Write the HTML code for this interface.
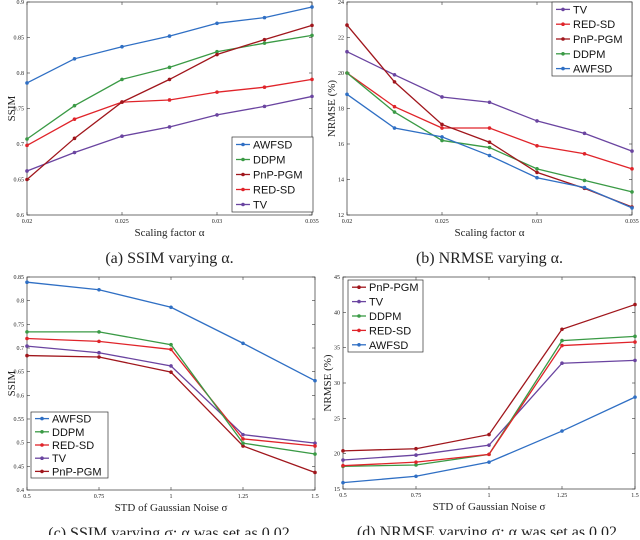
<!DOCTYPE html>
<html><head><meta charset="utf-8"><style>
body{margin:0;background:#fff;width:640px;height:535px;overflow:hidden}
svg text{font-family:"Liberation Serif",serif}
svg text.sans{font-family:"Liberation Sans",sans-serif}
</style></head><body>
<svg id="c" width="640" height="535" viewBox="0 0 640 535" xmlns="http://www.w3.org/2000/svg"></svg>
<script>
const COL={AWFSD:"#2f6fc4",DDPM:"#3a9a45",PnP:"#a0161c",RED:"#e0242a",TV:"#6a44a0"};
const LABEL={AWFSD:"AWFSD",DDPM:"DDPM",PnP:"PnP-PGM",RED:"RED-SD",TV:"TV"};
// (a)
const xA=[0.02,0.0225,0.025,0.0275,0.03,0.0325,0.035];
const aAWFSD=[.786,.820,.837,.852,.870,.878,.893];
const aDDPM=[.707,.754,.791,.808,.830,.842,.853];
const aPnP=[.650,.708,.759,.791,.826,.847,.867];
const aRED=[.698,.735,.759,.762,.773,.780,.791];
const aTV=[.662,.688,.711,.724,.741,.753,.767];
// (b)
const bTV=[21.2,19.9,18.65,18.35,17.3,16.6,15.6];
const bRED=[20.0,18.1,16.9,16.9,15.9,15.45,14.6];
const bPnP=[22.7,19.5,17.1,16.1,14.4,13.5,12.45];
const bDDPM=[20.0,17.8,16.2,15.8,14.6,13.95,13.3];
const bAWFSD=[18.8,16.9,16.4,15.35,14.1,13.55,12.4];
// (c)
const xC=[0.5,0.75,1,1.25,1.5];
const cAWFSD=[.839,.823,.786,.710,.631];
const cDDPM=[.734,.734,.707,.499,.476];
const cRED=[.720,.714,.697,.508,.493];
const cTV=[.704,.690,.662,.517,.499];
const cPnP=[.684,.681,.649,.493,.437];
// (d)
const dPnP=[20.4,20.7,22.7,37.6,41.1];
const dTV=[19.1,19.8,21.2,32.8,33.2];
const dDDPM=[18.2,18.4,19.9,36.0,36.6];
const dRED=[18.3,18.8,19.9,35.3,35.8];
const dAWFSD=[15.9,16.8,18.8,23.2,28.0];
// ticks
const xTicksA=[0.02,0.025,0.03,0.035];
const xTickLabA=["0.02","0.025","0.03","0.035"];
const yTicksA=[0.6,0.65,0.7,0.75,0.8,0.85,0.9];
const yTickLabA=["0.6","0.65","0.7","0.75","0.8","0.85","0.9"];
const yTicksB=[12,14,16,18,20,22,24];
const xTicksC=[0.5,0.75,1,1.25,1.5];
const xTickLabC=["0.5","0.75","1","1.25","1.5"];
const yTicksC=[0.4,0.45,0.5,0.55,0.6,0.65,0.7,0.75,0.8,0.85];
const yTickLabC=["0.4","0.45","0.5","0.55","0.6","0.65","0.7","0.75","0.8","0.85"];
const yTicksD=[15,20,25,30,35,40,45];

const svg=document.getElementById('c');
const NS="http://www.w3.org/2000/svg";
function mk(tag,attrs,parent){const e=document.createElementNS(NS,tag);for(const k in attrs)e.setAttribute(k,attrs[k]);(parent||svg).appendChild(e);return e;}
function txt(s,x,y,size,anchor,parent){const t=mk('text',{x:x,y:y,'font-size':size,'text-anchor':anchor||'middle',fill:'#222'},parent);t.textContent=s;return t;}

function panel(id,box,xd,yd,xt,xtl,yt,ytl,xs,series,order,leg,xlabel,ylabel,caption){
  const g=mk('g',{});
  
  
  const X=v=>box.x0+(v-xd[0])/(xd[1]-xd[0])*(box.x1-box.x0);
  const Y=v=>box.y1-(v-yd[0])/(yd[1]-yd[0])*(box.y1-box.y0);
  const r=mk('rect',{x:box.x0,y:box.y0,width:box.x1-box.x0,height:box.y1-box.y0,fill:'#fff',stroke:'#333','stroke-width':0.7},g);
  
  
  xt.forEach((v,i)=>{const x=X(v);
    mk('line',{x1:x,x2:x,y1:box.y1,y2:box.y1-3,stroke:'#333','stroke-width':0.6},g);
    mk('line',{x1:x,x2:x,y1:box.y0,y2:box.y0+3,stroke:'#333','stroke-width':0.6},g);
    const t=txt(xtl[i],x,box.y1+8,6,'middle',g);
    
    });
  yt.forEach((v,i)=>{const y=Y(v);
    mk('line',{x1:box.x0,x2:box.x0+3,y1:y,y2:y,stroke:'#333','stroke-width':0.6},g);
    mk('line',{x1:box.x1,x2:box.x1-3,y1:y,y2:y,stroke:'#333','stroke-width':0.6},g);
    const t=txt(ytl[i],box.x0-3,y+2,6,'end',g);
    
    });
  order.forEach(k=>{const vals=series[k];
    const pl=mk('polyline',{points:vals.map((v,i)=>X(xs[i])+','+Y(v)).join(' '),fill:'none',stroke:COL[k],'stroke-width':1.3},g);
    
    
    vals.forEach((v,i)=>{const c=mk('circle',{cx:X(xs[i]),cy:Y(v),r:1.8,fill:COL[k]},g);
      
      });
  });
  const lg=mk('g',{},g);
  
  
  mk('rect',{x:leg.x,y:leg.y,width:leg.w,height:leg.h,fill:'#fff',stroke:'#333','stroke-width':0.7},lg);
  const step=leg.h/leg.keys.length;
  leg.keys.forEach((k,i)=>{const y=leg.y+step*(i+0.5);
    mk('line',{x1:leg.x+4,x2:leg.x+18,y1:y,y2:y,stroke:COL[k],'stroke-width':1.3},lg);
    mk('circle',{cx:leg.x+11,cy:y,r:1.8,fill:COL[k]},lg);
    const t=mk('text',{x:leg.x+21,y:y+4,'font-size':11,fill:'#111','class':'sans'},lg);
    t.textContent=LABEL[k];
    
    });
  const xl=txt(xlabel,(box.x0+box.x1)/2,box.y1+21,11,'middle',g);
  
  
  const yl=txt(ylabel,0,0,11,'middle',g);
  yl.setAttribute('transform','translate('+(box.x0-12)+','+((box.y0+box.y1)/2)+') rotate(-90)');
  
  
  const cp=txt(caption,(box.x0+box.x1)/2,box.y1+48,16,'middle',g);
  
  
}
const yTickLabB=yTicksB.map(String), yTickLabD=yTicksD.map(String);
panel('panel-a-ssim-alpha',{x0:27,x1:312,y0:2,y1:215},[0.02,0.035],[0.6,0.9],xTicksA,xTickLabA,yTicksA,yTickLabA,xA,
 {AWFSD:aAWFSD,DDPM:aDDPM,PnP:aPnP,RED:aRED,TV:aTV},['TV','RED','DDPM','PnP','AWFSD'],
 {x:232,y:137,w:81,h:75,keys:['AWFSD','DDPM','PnP','RED','TV']},'Scaling factor α','SSIM','(a) SSIM varying α.');
panel('panel-b-nrmse-alpha',{x0:347,x1:632,y0:2,y1:215},[0.02,0.035],[12,24],xTicksA,xTickLabA,yTicksB,yTickLabB,xA,
 {TV:bTV,RED:bRED,PnP:bPnP,DDPM:bDDPM,AWFSD:bAWFSD},['TV','RED','DDPM','PnP','AWFSD'],
 {x:552,y:2,w:80,h:74,keys:['TV','RED','PnP','DDPM','AWFSD']},'Scaling factor α','NRMSE (%)','(b) NRMSE varying α.');
panel('panel-c-ssim-sigma',{x0:27,x1:315,y0:277,y1:490},[0.5,1.5],[0.4,0.85],xTicksC,xTickLabC,yTicksC,yTickLabC,xC,
 {AWFSD:cAWFSD,DDPM:cDDPM,RED:cRED,TV:cTV,PnP:cPnP},['PnP','TV','RED','DDPM','AWFSD'],
 {x:31,y:412,w:77,h:66,keys:['AWFSD','DDPM','RED','TV','PnP']},'STD of Gaussian Noise σ','SSIM','(c) SSIM varying σ; α was set as 0.02.');
panel('panel-d-nrmse-sigma',{x0:343,x1:635,y0:277,y1:489},[0.5,1.5],[15,45],xTicksC,xTickLabC,yTicksD,yTickLabD,xC,
 {PnP:dPnP,TV:dTV,DDPM:dDDPM,RED:dRED,AWFSD:dAWFSD},['AWFSD','TV','DDPM','RED','PnP'],
 {x:348,y:280,w:75,h:72,keys:['PnP','TV','DDPM','RED','AWFSD']},'STD of Gaussian Noise σ','NRMSE (%)','(d) NRMSE varying σ; α was set as 0.02.');
</script>
</body></html>
